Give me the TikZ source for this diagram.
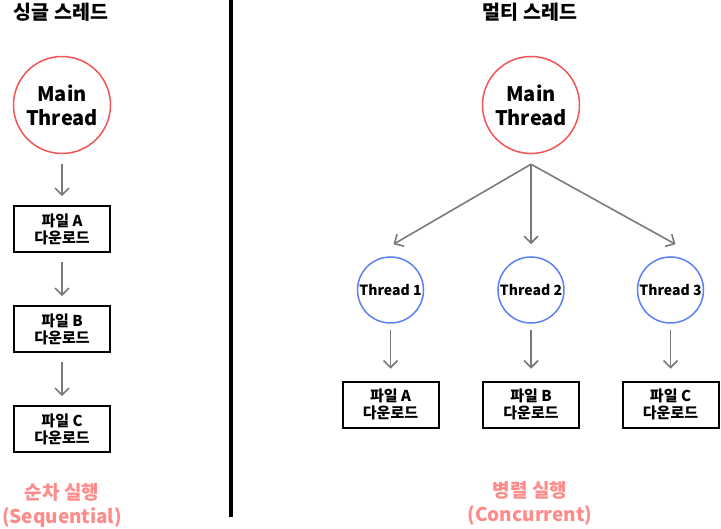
\documentclass[tikz,border=0pt]{standalone}
\usepackage{fontspec}
\setmainfont{Noto Sans CJK KR}
\usetikzlibrary{positioning,arrows.meta,calc}
\definecolor{mainred}{HTML}{F25555}
\definecolor{threadblue}{HTML}{5B7FF5}
\definecolor{notepink}{HTML}{FF8A8A}
\definecolor{arrowgray}{HTML}{7A7A7A}
\tikzset{
maincirc/.style={
draw=mainred,
circle,
line width=1.5pt,
minimum size=97pt,
inner sep=0pt,
align=center,
font=\bfseries\fontsize{20}{24}\selectfont
},
thread/.style={
draw=threadblue,
circle,
line width=1.5pt,
minimum size=66pt,
inner sep=0pt,
font=\bfseries\fontsize{14}{16}\selectfont
},
filebox/.style={
draw,
line width=2pt,
minimum width=96pt,
minimum height=46pt,
inner sep=0pt,
align=center,
font=\bfseries\fontsize{15}{17}\selectfont
},
arrow/.style={
-{Straight Barb[length=7pt,width=14pt]},
draw=arrowgray,
line width=1.6pt
},
title/.style={
font=\bfseries\fontsize{19.5}{22}\selectfont
},
note/.style={
text=notepink,
align=center,
font=\bfseries\fontsize{19}{24}\selectfont
}
}

\begin{document}
\begin{tikzpicture}[x=1pt,y=-1pt]
\useasboundingbox (0,0) rectangle (721,529);

% single thread
\node[title] (stitle) at (61,12) {싱글 스레드};
\node[maincirc] (smain) at (62,105) {Main\\Thread};
\node[filebox,below=51pt of smain] (sfa) {파일 A\\다운로드};
\node[filebox,below=52pt of sfa] (sfb) {파일 B\\다운로드};
\node[filebox,below=52pt of sfb] (sfc) {파일 C\\다운로드};
\node[note] (snote) at (62,505) {순차 실행\\(Sequential)};

\draw[arrow,shorten <=10pt,shorten >=9pt] (smain) -- (sfa);
\draw[arrow,shorten <=9pt,shorten >=9pt] (sfa) -- (sfb);
\draw[arrow,shorten <=9pt,shorten >=9pt] (sfb) -- (sfc);

% divider
\draw[line width=4pt] (230.5,0) -- (230.5,517);

% multi thread
\node[title] (mtitle) at (530,12) {멀티 스레드};
\node[maincirc] (mmain) at (531,105) {Main\\Thread};
\coordinate[below=10pt of mmain] (fork);
\node[thread] (t2) at (531,290) {Thread 2};
\node[thread,left=73pt of t2] (t1) {Thread 1};
\node[thread,right=72pt of t2] (t3) {Thread 3};
\node[filebox,below=57pt of t1] (mfa) {파일 A\\다운로드};
\node[filebox,below=57pt of t2] (mfb) {파일 B\\다운로드};
\node[filebox,below=57pt of t3] (mfc) {파일 C\\다운로드};
\node[note] (mnote) at (530,503) {병렬 실행\\(Concurrent)};

\draw[arrow] (fork) -- ($(t1.north)+(3,-12)$);
\draw[arrow,shorten >=12pt] (fork) -- (t2.north);
\draw[arrow] (fork) -- ($(t3.north)+(5,-12)$);
\foreach \t/\f in {t1/mfa,t2/mfb,t3/mfc}
\draw[arrow,shorten <=6pt,shorten >=12pt] (\t) -- (\f);
\end{tikzpicture}
\end{document}
